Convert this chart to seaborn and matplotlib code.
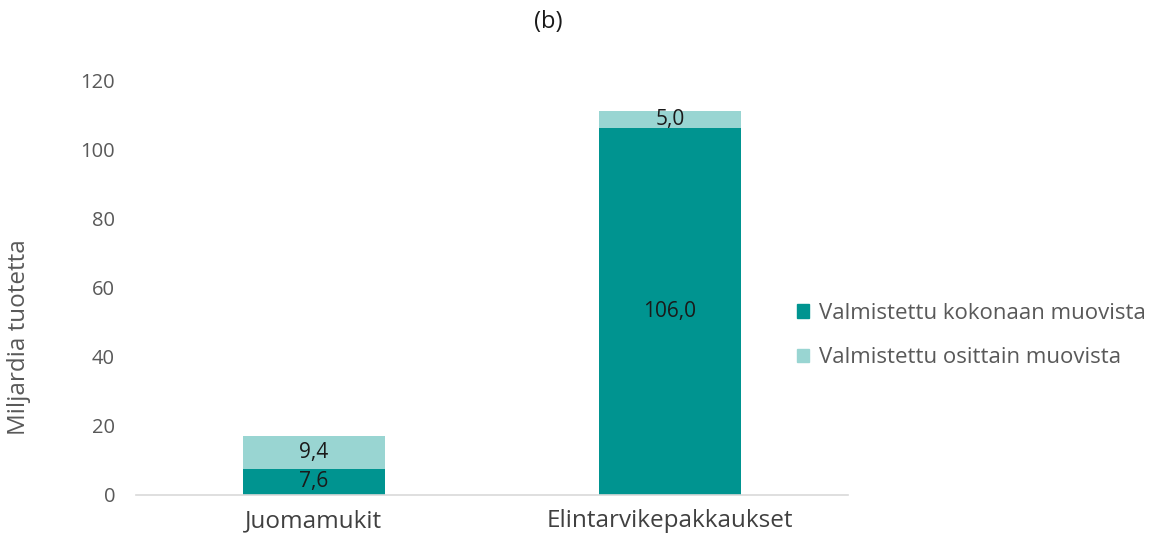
import seaborn as sns
import matplotlib.pyplot as plt
import pandas as pd
from matplotlib.patches import Patch

categories = ["Juomamukit", "Elintarvikepakkaukset"]
fully_plastic = [7.6, 106.0]
partly_plastic = [9.4, 5.0]
series_names = ["Valmistettu kokonaan muovista", "Valmistettu osittain muovista"]
yticks = [0, 20, 40, 60, 80, 100, 120]

dark = "#009490"
light = "#99D5D2"

sns.set_style("white")
plt.rcParams["font.family"] = ["Open Sans", "DejaVu Sans"]

df = pd.DataFrame({
    "kategoria": categories,
    "kokonaan": fully_plastic,
    "osittain": partly_plastic,
})
df["yhteensa"] = df["kokonaan"] + df["osittain"]

fig = plt.figure(figsize=(11.56, 5.5), dpi=100)
ax = fig.add_axes([0.1176, 0.1, 0.616, 0.7545])

# stacked: total first (light), then the fully-plastic part on top of it
sns.barplot(data=df, x="kategoria", y="yhteensa", color=light, width=0.4,
            saturation=1, ax=ax, linewidth=0)
sns.barplot(data=df, x="kategoria", y="kokonaan", color=dark, width=0.4,
            saturation=1, ax=ax, linewidth=0)

for i, row in df.iterrows():
    ax.text(i, row["kokonaan"] / 2, f"{row['kokonaan']:.1f}".replace(".", ","),
            ha="center", va="center", fontsize=15, color="#1a1a1a")
    ax.text(i, row["kokonaan"] + row["osittain"] / 2,
            f"{row['osittain']:.1f}".replace(".", ","),
            ha="center", va="center", fontsize=15, color="#1a1a1a")

ax.set_ylim(0, 120)
ax.set_yticks(yticks)
ax.set_xlim(-0.5, 1.5)
ax.tick_params(axis="y", labelsize=14.5, colors="#595959", length=0, pad=15)
ax.tick_params(axis="x", labelsize=17.5, colors="#404040", length=0, pad=10)
ax.set_xlabel("")
ax.set_ylabel("Miljardia tuotetta", fontsize=17.5, color="#595959")
ax.yaxis.set_label_coords(-0.148, 0.38)
fig.text(0.474, 0.96, "(b)", fontsize=17, color="#1a1a1a", ha="center", va="center")

sns.despine(ax=ax, left=True)
ax.spines["bottom"].set_color("#D9D9D9")
ax.spines["bottom"].set_linewidth(1.2)

legend_handles = [Patch(color=dark), Patch(color=light)]
fig.legend(legend_handles, series_names, loc="center left",
           bbox_to_anchor=(0.672, 0.39), frameon=False, fontsize=16,
           handlelength=0.55, handleheight=0.55, handletextpad=0.45,
           labelspacing=1.05, labelcolor="#595959")

fig.savefig("out.png", dpi=100)
